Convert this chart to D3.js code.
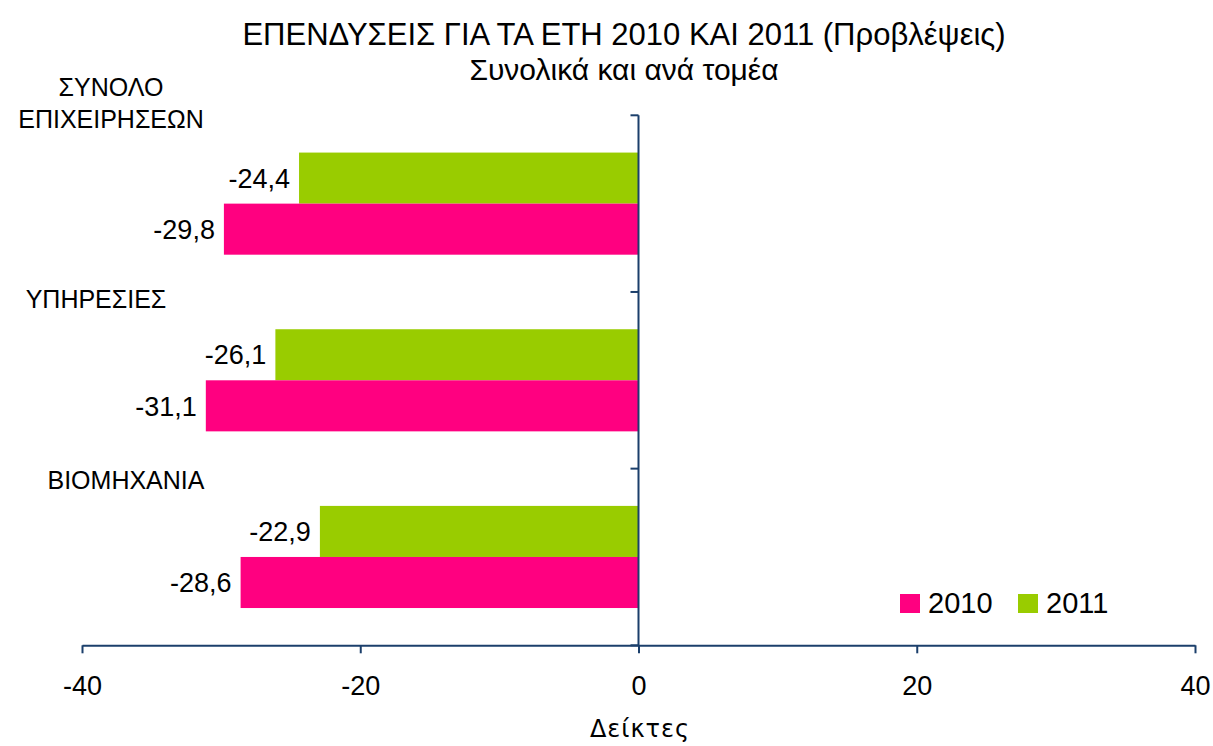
<html>
<head>
<meta charset="utf-8">
<script src="https://d3js.org/d3.v7.min.js"></script>
<style>
body { margin: 0; background: #fff; }
text { font-family: "Liberation Sans", Arial, sans-serif; fill: #000; }
</style>
</head>
<body>
<div id="chart"></div>
<script>
// data
var categories = ["ΣΥΝΟΛΟ ΕΠΙΧΕΙΡΗΣΕΩΝ", "ΥΠΗΡΕΣΙΕΣ", "ΒΙΟΜΗΧΑΝΙΑ"];
var series = ["2011", "2010"];
var values2010 = [-29.8, -31.1, -28.6];
var values2011 = [-24.4, -26.1, -22.9];
var xTicks = [-40, -20, 0, 20, 40];

var colors = { "2010": "#FF0080", "2011": "#99CC00" };
var axisColor = "#1B3F6B";

var width = 1213, height = 746;

var svg = d3.select("#chart")
  .append("svg")
    .attr("width", width)
    .attr("height", height);

var x = d3.scaleLinear()
  .domain([-40, 40])
  .range([82, 1195]);

var y = d3.scaleBand()
  .domain(categories)
  .range([115.3, 645.3])
  .padding(0);

var ySub = d3.scaleBand()
  .domain(series)
  .range([0, y.bandwidth()])
  .paddingInner(0)
  .paddingOuter(0.73);

// greek style: comma decimal, plain hyphen minus
var comma = d3.formatLocale({decimal: ",", thousands: ".", grouping: [3], currency: ["", "€"], minus: "-"}).format(".1f");

var rows = [];
categories.forEach(function(c, i) {
  rows.push({cat: c, s: "2011", v: values2011[i]});
  rows.push({cat: c, s: "2010", v: values2010[i]});
});

// title
svg.append("text")
  .attr("x", 624)
  .attr("y", 45)
  .attr("text-anchor", "middle")
  .style("font-size", "31px")
  .text("ΕΠΕΝΔΥΣΕΙΣ ΓΙΑ ΤΑ ΕΤΗ 2010 ΚΑΙ 2011 (Προβλέψεις)");

svg.append("text")
  .attr("x", 624)
  .attr("y", 80)
  .attr("text-anchor", "middle")
  .style("font-size", "30px")
  .text("Συνολικά και ανά τομέα");

// bars
svg.append("g")
  .selectAll("rect")
  .data(rows)
  .enter()
  .append("rect")
    .attr("x", function(d) { return x(d.v); })
    .attr("y", function(d) { return y(d.cat) + ySub(d.s); })
    .attr("width", function(d) { return x(0) - x(d.v); })
    .attr("height", ySub.bandwidth())
    .style("fill", function(d) { return colors[d.s]; });

// value labels
svg.append("g")
  .selectAll("text")
  .data(rows)
  .enter()
  .append("text")
    .attr("x", function(d) { return x(d.v) - 9; })
    .attr("y", function(d) { return y(d.cat) + ySub(d.s) + ySub.bandwidth() / 2; })
    .attr("dy", "0.36em")
    .attr("text-anchor", "end")
    .style("font-size", "27px")
    .text(function(d) { return comma(d.v); });

// x axis
var xAxis = svg.append("g")
  .attr("transform", "translate(0," + y.range()[1] + ")")
  .call(d3.axisBottom(x).tickValues(xTicks).tickFormat(function(d) { return String(d); })
    .tickSize(8).tickPadding(23).tickSizeOuter(0));

xAxis.select(".domain").attr("stroke", axisColor).attr("stroke-width", 2);
xAxis.selectAll(".tick line").attr("stroke", axisColor).attr("stroke-width", 2);
xAxis.selectAll(".tick text")
  .style("font-family", "Liberation Sans, Arial, sans-serif")
  .style("font-size", "27px")
  .style("fill", "#000");

// y axis at zero
var yEdges = categories.map(function(c) { return y(c); }).concat([y.range()[1]]);
var yAxis = svg.append("g");
yAxis.append("line")
  .attr("x1", x(0)).attr("x2", x(0))
  .attr("y1", y.range()[0]).attr("y2", y.range()[1])
  .attr("stroke", axisColor).attr("stroke-width", 2);
yAxis.selectAll(".yt")
  .data(yEdges)
  .enter()
  .append("line")
    .attr("x1", x(0) - 8).attr("x2", x(0))
    .attr("y1", function(d) { return d; })
    .attr("y2", function(d) { return d; })
    .attr("stroke", axisColor).attr("stroke-width", 2);

// category labels (placed like the original text boxes)
var catLabels = [
  {lines: ["ΣΥΝΟΛΟ", "ΕΠΙΧΕΙΡΗΣΕΩΝ"], cx: 111, dy: -19},
  {lines: ["ΥΠΗΡΕΣΙΕΣ"], cx: 96, dy: 16},
  {lines: ["ΒΙΟΜΗΧΑΝΙΑ"], cx: 126, dy: 20}
];
catLabels.forEach(function(l, i) {
  var t = svg.append("text")
    .attr("text-anchor", "middle")
    .style("font-size", "25px");
  l.lines.forEach(function(s, j) {
    t.append("tspan")
      .attr("x", l.cx)
      .attr("y", y(categories[i]) + l.dy + j * 32)
      .text(s);
  });
});

// legend
var legend = svg.append("g");
var legendItems = ["2010", "2011"];
legend.selectAll("rect")
  .data(legendItems)
  .enter()
  .append("rect")
    .attr("x", function(d, i) { return 900 + i * 118; })
    .attr("y", 594)
    .attr("width", 20)
    .attr("height", 19)
    .style("fill", function(d) { return colors[d]; });
legend.selectAll("text")
  .data(legendItems)
  .enter()
  .append("text")
    .attr("x", function(d, i) { return 928 + i * 118; })
    .attr("y", 613)
    .style("font-size", "29px")
    .text(function(d) { return d; });

// axis title
svg.append("text")
  .attr("x", 640)
  .attr("y", 737)
  .attr("text-anchor", "middle")
  .style("font-family", "DejaVu Sans, sans-serif")
  .style("font-size", "24px")
  .style("letter-spacing", "1px")
  .text("Δείκτες");
</script>
</body>
</html>
